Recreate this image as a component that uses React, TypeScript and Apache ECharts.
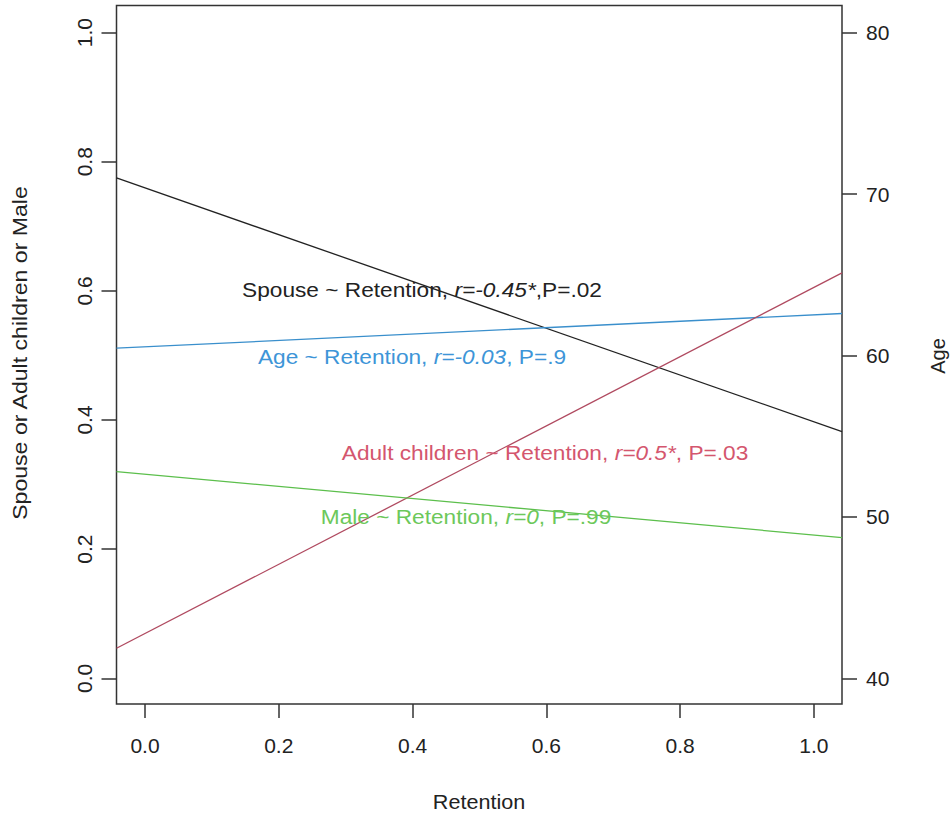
import React, { useEffect, useRef } from "react";
import * as echarts from "echarts";

// Regression lines drawn across the full plot region (R abline), read at the plot edges
const retention = [-0.0426, 1.042];
const spouse = [0.775, 0.382];
const adultChildren = [0.0465, 0.628];
const male = [0.32, 0.218];
const age = [60.45, 62.6];

const xTicks = [0, 0.2, 0.4, 0.6, 0.8, 1.0];
const leftTicks = [0, 0.2, 0.4, 0.6, 0.8, 1.0];
const rightTicks = [40, 50, 60, 70, 80];

const FONT = "'Liberation Sans', Arial, Helvetica, sans-serif";
const SX = 1.08;

const pairs = (ys: number[]) => retention.map((x, i) => [x, ys[i]]);

export default function App() {
  const ref = useRef<HTMLDivElement>(null);
  useEffect(() => {
    if (!ref.current) return;
    const chart = echarts.init(ref.current, undefined, { renderer: "svg" });
    const rich = (color: string) => ({
      n: { fontFamily: FONT, fontSize: 21, color },
      i: { fontFamily: FONT, fontSize: 21, fontStyle: "italic", color },
    });
    const ann = (x: number, y: number, a: string, b: string, c: string, color: string) => ({
      type: "text",
      x,
      y,
      z: 100,
      scaleX: SX,
      style: {
        text: `{n|${a}}{i|${b}}{n|${c}}`,
        rich: rich(color),
        align: "center",
        verticalAlign: "middle",
        fill: color,
      },
    });
    const tickStyle = { color: "#333", width: 1.5 };
    chart.setOption({
      animation: false,
      backgroundColor: "#ffffff",
      grid: {
        left: 116.5,
        right: 110,
        top: 5.5,
        bottom: 112,
        show: true,
        borderColor: "#333",
        borderWidth: 1.5,
        backgroundColor: "transparent",
      },
      xAxis: {
        type: "value",
        min: -0.0426,
        max: 1.042,
        splitLine: { show: false },
        axisLine: { show: false, onZero: false },
        axisTick: { show: true, length: 14, customValues: xTicks, lineStyle: tickStyle },
        axisLabel: {
          customValues: xTicks,
          formatter: (v: number) => v.toFixed(1),
          fontFamily: FONT,
          fontSize: 21,
          color: "#222",
          margin: 31,
        },
      },
      yAxis: [
        {
          type: "value",
          min: -0.0398,
          max: 1.042,
          splitLine: { show: false },
          axisLine: { show: false, onZero: false },
          axisTick: { show: true, length: 15, customValues: leftTicks, lineStyle: tickStyle },
          axisLabel: {
            customValues: leftTicks,
            formatter: (v: number) => v.toFixed(1),
            rotate: 90,
            fontFamily: FONT,
            fontSize: 21,
            color: "#222",
            margin: 22,
          },
        },
        {
          type: "value",
          position: "right",
          min: 38.41,
          max: 81.68,
          splitLine: { show: false },
          axisLine: { show: false, onZero: false },
          axisTick: { show: true, length: 15, customValues: rightTicks, lineStyle: tickStyle },
          axisLabel: {
            customValues: rightTicks,
            fontFamily: FONT,
            fontSize: 21,
            color: "#222",
            margin: 24,
          },
        },
      ],
      series: [
        {
          name: "Spouse",
          type: "line",
          data: pairs(spouse),
          showSymbol: false,
          lineStyle: { color: "#222", width: 1.3 },
        },
        {
          name: "Age",
          type: "line",
          yAxisIndex: 1,
          data: pairs(age),
          showSymbol: false,
          lineStyle: { color: "#3a8fcc", width: 1.3 },
        },
        {
          name: "Adult children",
          type: "line",
          data: pairs(adultChildren),
          showSymbol: false,
          lineStyle: { color: "#b04a60", width: 1.3 },
        },
        {
          name: "Male",
          type: "line",
          data: pairs(male),
          showSymbol: false,
          lineStyle: { color: "#5cbf4c", width: 1.3 },
        },
      ],
      graphic: [
        ann(422, 290, "Spouse ~ Retention, ", "r=-0.45*", ",P=.02", "#222222"),
        ann(412, 357, "Age ~ Retention, ", "r=-0.03", ", P=.9", "#3d95d8"),
        ann(545, 453, "Adult children ~ Retention, ", "r=0.5*", ", P=.03", "#d4566e"),
        ann(466, 517, "Male ~ Retention, ", "r=0", ", P=.99", "#6cc85a"),
        {
          type: "text",
          x: 479,
          y: 802,
          scaleX: SX,
          style: {
            text: "Retention",
            font: `20px ${FONT}`,
            fill: "#222",
            align: "center",
            verticalAlign: "middle",
          },
        },
        {
          type: "text",
          x: 20,
          y: 353,
          rotation: Math.PI / 2,
          scaleX: 1.1,
          style: {
            text: "Spouse or Adult children or Male",
            font: `21px ${FONT}`,
            fill: "#222",
            align: "center",
            verticalAlign: "middle",
          },
        },
        {
          type: "text",
          x: 938,
          y: 356,
          rotation: Math.PI / 2,
          style: {
            text: "Age",
            font: `20px ${FONT}`,
            fill: "#222",
            align: "center",
            verticalAlign: "middle",
          },
        },
      ],
    });
    return () => chart.dispose();
  }, []);
  return (
    <div
      ref={ref}
      style={{ position: "fixed", left: 0, top: 0, width: 952, height: 816 }}
    />
  );
}
